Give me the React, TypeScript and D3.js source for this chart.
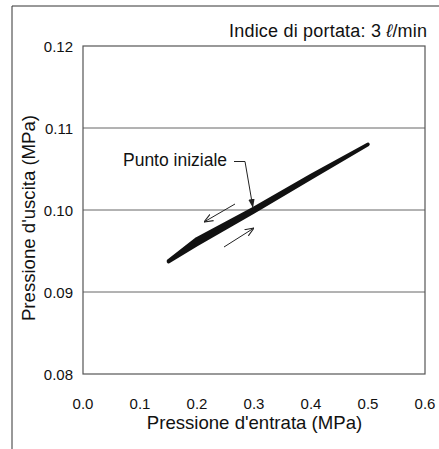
import React from "react";
import * as d3 from "d3";

const xTicks = [0.0, 0.1, 0.2, 0.3, 0.4, 0.5, 0.6];
const yTicks = [0.08, 0.09, 0.1, 0.11, 0.12];
const gridValues = [0.09, 0.1, 0.11];
// decreasing-pressure branch (upper)
const upperX = [0.15, 0.2, 0.3, 0.4, 0.5];
const upperY = [0.0938, 0.0965, 0.1002, 0.1042, 0.108];
// increasing-pressure branch (lower)
const lowerX = [0.15, 0.2, 0.3, 0.4, 0.5];
const lowerY = [0.0937, 0.0958, 0.0998, 0.1039, 0.108];

const titleMain = "Indice di portata: 3 ";
const titleUnit = "\u2113";
const titleTail = "/min";
const xLabel = "Pressione d'entrata (MPa)";
const yLabel = "Pressione d'uscita (MPa)";
const startLabel = "Punto iniziale";

const FONT = "'Liberation Sans', Arial, Helvetica, sans-serif";

export default function App() {
  const W = 439, H = 449;
  const left = 83, right = 425, top = 46, bottom = 374;
  const x = d3.scaleLinear().domain([0, 0.6]).range([left, right]);
  const y = d3.scaleLinear().domain([0.08, 0.12]).range([bottom, top]);

  const upper = upperX.map((v, i) => [v, upperY[i]] as [number, number]);
  const lower = lowerX.map((v, i) => [v, lowerY[i]] as [number, number]);
  const band = upper.concat(lower.slice().reverse());
  const line = d3.line<[number, number]>().x((d) => x(d[0])).y((d) => y(d[1]));

  const fmtX = d3.format(".1f");
  const fmtY = d3.format(".2f");

  const sx = x(0.3), sy = y(0.1);

  return (
    <svg width={W} height={H} style={{ position: "absolute", left: 0, top: 0 }} fontFamily={FONT}>
      <defs>
        <marker id="open" viewBox="0 0 10 10" refX="10" refY="5" markerWidth="9" markerHeight="9" orient="auto" markerUnits="userSpaceOnUse">
          <path d="M0,1 L10,5 L0,9" fill="none" stroke="#222" strokeWidth={1.2} />
        </marker>
        <marker id="solid" viewBox="0 0 10 10" refX="10" refY="5" markerWidth="9" markerHeight="9" orient="auto" markerUnits="userSpaceOnUse">
          <path d="M0,1.5 L10,5 L0,8.5 Z" fill="#222" />
        </marker>
      </defs>
      <rect width={W} height={H} fill="#fff" />
      <path d="M12,449 V6 H439" fill="none" stroke="#333" strokeWidth={1} />

      {gridValues.map((g) => (
        <line key={g} x1={left} x2={right} y1={y(g)} y2={y(g)} stroke="#666" strokeWidth={1} />
      ))}
      <rect x={left} y={top} width={right - left} height={bottom - top} fill="none" stroke="#555" strokeWidth={1.2} />

      {yTicks.map((t) => (
        <text key={t} x={73} y={y(t) + 5.5} fontSize={15} textAnchor="end" fill="#111">{fmtY(t)}</text>
      ))}
      {xTicks.map((t) => (
        <text key={t} x={x(t)} y={408.5} fontSize={15} textAnchor="middle" fill="#111">{fmtX(t)}</text>
      ))}
      <text x={(left + right) / 2 + 0.5} y={429} fontSize={18.6} textAnchor="middle" fill="#111">{xLabel}</text>
      <text transform={`translate(35,${(top + bottom) / 2 + 8}) rotate(-90)`} fontSize={18.6} textAnchor="middle" fill="#111">{yLabel}</text>
      <text x={427} y={37} fontSize={18} textAnchor="end" fill="#111" textLength={198} lengthAdjust="spacing">
        {titleMain}<tspan fontStyle="italic">{titleUnit}</tspan>{titleTail}
      </text>

      <path d={line(band) + "Z"} fill="#111" stroke="#111" strokeWidth={3.5} strokeLinejoin="round" />

      <text x={123} y={166} fontSize={17.5} fill="#111" textLength={104} lengthAdjust="spacing">{startLabel}</text>
      <path d={`M234,161.5 H245 L${sx - 1},${sy - 2}`} fill="none" stroke="#222" strokeWidth={1} markerEnd="url(#solid)" />
      <line x1={235} y1={204} x2={204} y2={222} stroke="#222" strokeWidth={1} markerEnd="url(#open)" />
      <line x1={224} y1={247} x2={254} y2={228} stroke="#222" strokeWidth={1} markerEnd="url(#open)" />
    </svg>
  );
}
